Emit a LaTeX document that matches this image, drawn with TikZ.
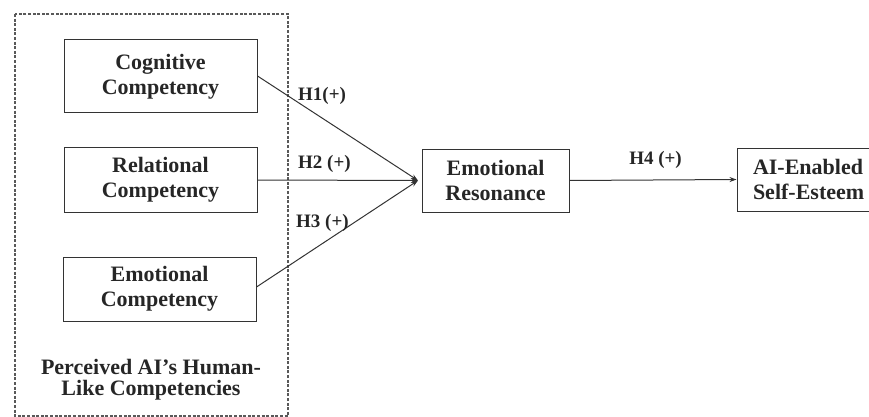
\documentclass[tikz,border=0pt]{standalone}
\usepackage{fontspec}
\setmainfont{Liberation Serif}
\usetikzlibrary{arrows.meta}
\begin{document}
\begin{tikzpicture}[x=1pt,y=-1pt,
  box/.style={draw=black!80, line width=1pt, rectangle, align=center, inner sep=0pt,
    font=\fontsize{22}{25}\selectfont\bfseries, text=black!85},
  hlab/.style={font=\fontsize{19}{22}\selectfont\bfseries, text=black!85, inner sep=0pt},
  link/.style={draw=black!80, line width=1pt, -{Stealth[length=7pt,width=5pt]}},
  group/.style={draw=black!65, line width=1.3pt, dash pattern=on 3pt off 1.6pt}]
\clip (0,0) rectangle (869,417);
% dashed group
\draw[group] (15,14) rectangle (288,416);
% nodes
\node[box, minimum width=193pt, minimum height=73pt] (cog) at (160.5,76.5) {Cognitive\\Competency};
\node[box, minimum width=193pt, minimum height=65pt] (rel) at (160.5,180) {Relational\\Competency};
\node[box, minimum width=193pt, minimum height=64pt] (emo) at (159.5,289) {Emotional\\Competency};
\node[box, minimum width=147pt, minimum height=63pt] (res) at (495.5,180.5) {Emotional\\Resonance};
\node[box, minimum width=170pt, minimum height=63pt, text width=138pt, align=left] (ai) at (822,179.5) {AI-Enabled\\Self-Esteem};
\node[font=\fontsize{22}{21}\selectfont\bfseries, text=black!85, align=center, inner sep=0pt] (grp) at (151,380) {Perceived AI’s Human-\\Like Competencies};
% connectors
\coordinate (conv) at (418,180.5);
\draw[link] (cog.east |- 0,76) -- (conv);
\draw[link] (rel.east) -- (conv);
\draw[link] (emo.east |- 0,287) -- (conv);
\draw[link] (res.east) -- (ai.west);
% labels
\node[hlab, anchor=west] (h1) at (298,96) {H1(+)};
\node[hlab, anchor=west] (h2) at (298,164) {H2 (+)};
\node[hlab, anchor=west] (h3) at (296,223) {H3 (+)};
\node[hlab] (h4) at (655.5,160) {H4 (+)};
\end{tikzpicture}
\end{document}
